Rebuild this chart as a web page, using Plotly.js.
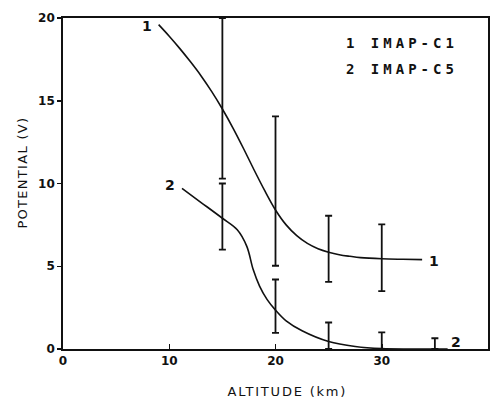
<!DOCTYPE html>
<html>
<head>
<meta charset="utf-8">
<script src="https://cdn.plot.ly/plotly-3.0.1.min.js"></script>
<style>
html,body{margin:0;padding:0;background:#fff;}
#chart{width:496px;height:401px;}
#chart .xtitle{letter-spacing:1.8px;}
#chart .ytitle{letter-spacing:1.3px;}
</style>
</head>
<body>
<div id="chart"></div>
<script>
// Curve 1 (IMAP-C1)
var curve1X = [9, 10, 11, 12, 13, 14, 15, 16, 17, 18, 19, 20, 21, 22, 23, 24, 25, 26, 27, 28, 30, 32, 33.8];
var curve1Y = [19.6, 18.9, 18.15, 17.35, 16.5, 15.55, 14.5, 13.35, 12.1, 10.8, 9.55, 8.4, 7.5, 6.85, 6.38, 6.06, 5.85, 5.7, 5.6, 5.52, 5.45, 5.42, 5.4];
// Curve 2 (IMAP-C5)
var curve2X = [11.2, 13, 15, 16.4, 17.3, 17.9, 18.5, 19.2, 20, 21, 22.5, 25, 27.5, 30, 33, 36.2];
var curve2Y = [9.7, 8.85, 7.9, 7.2, 6.2, 4.8, 3.8, 3.0, 2.35, 1.7, 1.1, 0.45, 0.15, 0.02, 0.0, 0.0];
// Error bars (upper / lower limits)
var err1X = [15, 20, 25, 30];
var err1High = [20, 14.05, 8.05, 7.53];
var err1Low = [10.3, 5.03, 4.05, 3.5];
var err2X = [15, 20, 25, 30, 35];
var err2High = [10.0, 4.2, 1.6, 1.0, 0.65];
var err2Low = [6.0, 0.97, 0.0, 0.0, 0.0];
// Curve labels
var labelText = ["1", "2", "1", "2"];
var labelX = [7.9, 10.1, 34.9, 37.0];
var labelY = [19.5, 9.9, 5.3, 0.4];
var legendLines = ["1 IMAP-C1", "2 IMAP-C5"];
var xTicks = [0, 10, 20, 30, 40];
var yTicks = [0, 5, 10, 15, 20];

function mid(h, l) { return h.map(function (v, i) { return (v + l[i]) / 2; }); }
function half(h, l) { return h.map(function (v, i) { return (v - l[i]) / 2; }); }

var black = '#111';
var traces = [
  {x: curve1X, y: curve1Y, mode: 'lines', line: {color: black, width: 1.6, shape: 'spline', smoothing: 1}, hoverinfo: 'skip'},
  {x: curve2X, y: curve2Y, mode: 'lines', line: {color: black, width: 1.6, shape: 'spline', smoothing: 1}, hoverinfo: 'skip'},
  {x: err1X, y: mid(err1High, err1Low), mode: 'markers', marker: {size: 0.1, color: 'rgba(0,0,0,0)'},
   error_y: {type: 'data', array: half(err1High, err1Low), symmetric: true, color: black, thickness: 1.8, width: 3.5}},
  {x: err2X, y: mid(err2High, err2Low), mode: 'markers', marker: {size: 0.1, color: 'rgba(0,0,0,0)'},
   error_y: {type: 'data', array: half(err2High, err2Low), symmetric: true, color: black, thickness: 1.8, width: 3.5}}
];

var annotations = labelText.map(function (t, i) {
  return {x: labelX[i], y: labelY[i], text: t, showarrow: false, xref: 'x', yref: 'y',
          font: {family: 'DejaVu Sans', size: 14, color: black, weight: 'bold'}};
});
legendLines.forEach(function (t, i) {
  annotations.push({x: 0.935, y: 0.925 - i * 0.079, xref: 'paper', yref: 'paper', xanchor: 'right', yanchor: 'middle',
    text: '<span style="letter-spacing:4px">' + t + '</span>', showarrow: false,
    font: {family: 'DejaVu Sans Mono', size: 14, color: black, weight: 'bold'}});
});

var pad = '\u200B\u00A0\u00A0\u00A0\u00A0';
var axisFont = {family: 'DejaVu Sans', size: 12, color: black, weight: 'bold'};
var titleFont = {family: 'DejaVu Sans', size: 13, color: black};
var layout = {
  width: 496, height: 401,
  margin: {l: 63, r: 8, t: 18, b: 52},
  paper_bgcolor: '#fff', plot_bgcolor: '#fff',
  showlegend: false,
  xaxis: {range: [0, 40], tickvals: xTicks, ticktext: xTicks.map(String), ticks: 'inside', ticklen: 5, tickwidth: 1.5,
          tickcolor: black, showgrid: false, zeroline: false, showline: true, linecolor: black, linewidth: 1.8, mirror: true,
          tickfont: axisFont, title: {text: pad + 'ALTITUDE (km)', font: titleFont, standoff: 20}},
  yaxis: {range: [0, 20], tickvals: yTicks, ticktext: yTicks.map(String), ticks: 'outside', ticklen: 4, tickwidth: 1.5,
          tickcolor: black, showgrid: false, zeroline: false, showline: true, linecolor: black, linewidth: 1.8, mirror: true,
          tickfont: axisFont, title: {text: pad + 'POTENTIAL (V)', font: titleFont, standoff: 7}},
  annotations: annotations
};
Plotly.newPlot('chart', traces, layout, {staticPlot: true, displayModeBar: false});
</script>
</body>
</html>
